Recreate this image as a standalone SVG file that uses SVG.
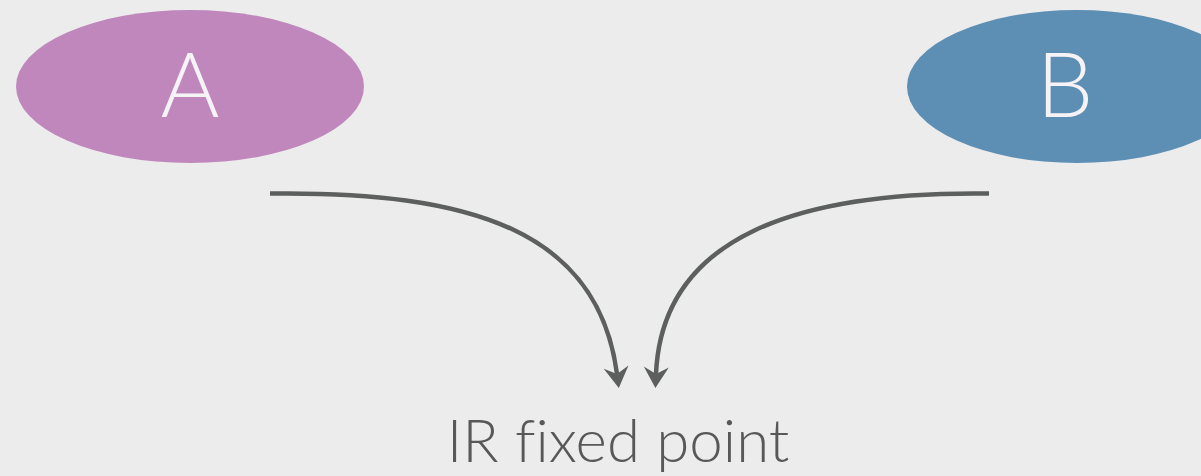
<svg xmlns="http://www.w3.org/2000/svg" width="1201" height="476" viewBox="0 0 1201 476">
<style>
.lbl{font-family:Lato,"Open Sans","DejaVu Sans",sans-serif;font-weight:300;fill:#f6f3f6;font-size:90px;text-anchor:middle}
.edge{fill:none;stroke:#5c5f5e;stroke-width:4.5}
.cap{font-family:Lato,"Open Sans","DejaVu Sans",sans-serif;font-weight:300;fill:#585858;font-size:60px;text-anchor:middle;font-variant-ligatures:none;font-feature-settings:"liga" 0}
</style>
<defs>
<marker id="ah" viewBox="-22 -14 24 28" markerWidth="24" markerHeight="28" refX="-14" refY="0" orient="auto" markerUnits="userSpaceOnUse">
<path d="M0,0 L-21,-12.5 L-14,0 L-21,12.5 Z" fill="#5c5f5e"/>
</marker>
</defs>
<rect width="1201" height="476" fill="#ececec"/>
<g id="nodeA">
<ellipse cx="190" cy="86.5" rx="174" ry="76.5" fill="#c087bd"/>
<text class="lbl" x="190" y="117">A</text>
</g>
<g id="nodeB">
<ellipse cx="1077" cy="86.5" rx="170" ry="76.5" fill="#5d8fb5"/>
<text class="lbl" x="1065" y="117">B</text>
</g>
<g id="connectors">
<path class="edge" d="M270,193.5 C470,191 598,230 617,374" marker-end="url(#ah)"/>
<path class="edge" d="M989,193.5 C800,191 662,235 656,374" marker-end="url(#ah)"/>
</g>
<g id="label">
<text class="cap" x="618" y="462">IR fixed point</text>
</g>
</svg>
